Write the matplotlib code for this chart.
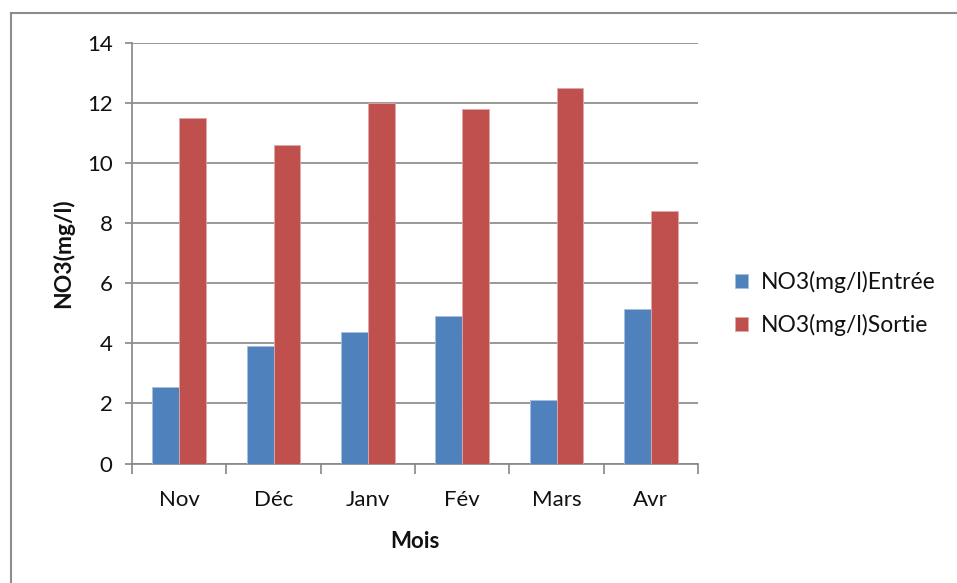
import matplotlib
matplotlib.use("Agg")
import matplotlib.pyplot as plt
import numpy as np
from matplotlib.lines import Line2D

months = ["Nov", "Déc", "Janv", "Fév", "Mars", "Avr"]
entree = [2.55, 3.9, 4.37, 4.9, 2.1, 5.15]
sortie = [11.5, 10.6, 12.0, 11.8, 12.5, 8.4]
series_names = ["NO3(mg/l)Entrée", "NO3(mg/l)Sortie"]
yticks = [0, 2, 4, 6, 8, 10, 12, 14]

plt.rcParams['font.family'] = ['Lato', 'DejaVu Sans']
txt_c = "#111111"

fig = plt.figure(figsize=(9.57, 5.83), dpi=100)
ax = fig.add_axes([132/957, 1-463.5/583, (698-132)/957, (463.5-43.3)/583])

x = np.arange(len(months))
w = 1/3.5
grid_c = "#868686"
ax.bar(x - w/2, entree, width=w, color="#4F81BD", edgecolor="#A7C0DE", linewidth=0.6, label=series_names[0], zorder=3)
ax.bar(x + w/2, sortie, width=w, color="#C0504D", edgecolor="#E0A9A8", linewidth=0.6, label=series_names[1], zorder=3)

ax.set_xlim(-0.5, len(months) - 0.5)
ax.set_ylim(0, 14)
ax.set_yticks(yticks)
ax.set_yticklabels([str(v) for v in yticks], fontsize=16, color=txt_c)
ax.yaxis.grid(True, color=grid_c, linewidth=1.2, zorder=0)
ax.set_axisbelow(True)

ax.set_xticks(x)
ax.set_xticklabels(months, fontsize=16, color=txt_c)
ax.set_xticks(np.arange(-0.5, len(months)), minor=True)
ax.tick_params(axis='x', which='major', length=0, pad=19)
ax.tick_params(axis='x', which='minor', length=7, color=grid_c, width=1.2, direction='out')
ax.tick_params(axis='y', length=5, color=grid_c, width=1.2, direction='out', pad=9)

for s in ['top', 'right']:
    ax.spines[s].set_visible(False)
for s in ['left', 'bottom']:
    ax.spines[s].set_color(grid_c)
    ax.spines[s].set_linewidth(1.2)

ax.set_xlabel("Mois", fontsize=16, fontweight='bold', labelpad=15, color=txt_c)
ax.set_ylabel("NO3(mg/l)", fontsize=16.5, fontweight='bold', labelpad=9, color=txt_c)

leg = fig.legend(loc='center left', bbox_to_anchor=(735/957, 1-303.5/583), frameon=False,
                 fontsize=16.5, handlelength=0.55, handleheight=0.55, handletextpad=0.6,
                 labelspacing=0.9, borderaxespad=0, borderpad=0)
for t in leg.get_texts():
    t.set_color(txt_c)

# chart border
fig.add_artist(Line2D([11/957, 11/957], [0, 1-13/583], transform=fig.transFigure, color="#8C8C8C", linewidth=1.5))
fig.add_artist(Line2D([11/957, 1], [1-13/583, 1-13/583], transform=fig.transFigure, color="#8C8C8C", linewidth=1.5))

fig.savefig("out.png", dpi=100)
